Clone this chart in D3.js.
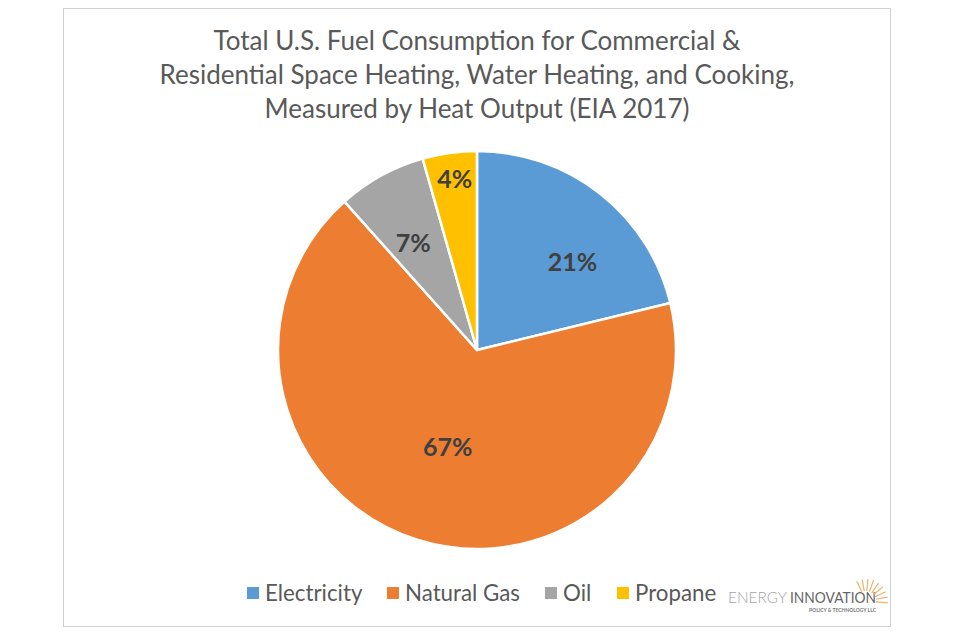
<!DOCTYPE html>
<html>
<head>
<meta charset="utf-8">
<script src="https://cdn.jsdelivr.net/npm/d3@7"></script>
<style>
  html, body { margin: 0; padding: 0; background: #fff; }
  svg { display: block; font-family: Lato, "Open Sans", sans-serif; }
</style>
</head>
<body>
<svg id="chart" width="960" height="633"></svg>
<script>
const fuels = ["Electricity", "Natural Gas", "Oil", "Propane"];
const shares = [21.2, 67.2, 7.2, 4.4];
const fuelColors = ["#5b9bd5", "#ed7d31", "#a5a5a5", "#ffc000"];
const titleLines = [
  "Total U.S. Fuel Consumption for Commercial &",
  "Residential Space Heating, Water Heating, and Cooking,",
  "Measured by Heat Output (EIA 2017)",
];
const legendX = [247, 387, 545, 617];
const raySteps = [-25, -10, 5, 20, 35, 50, 65, 80, 95];

const svg = d3.select("svg#chart");
const textColor = "#595959";

// chart frame
svg.append("rect")
  .attr("x", 63.5).attr("y", 8.5)
  .attr("width", 827).attr("height", 618)
  .attr("fill", "#fff").attr("stroke", "#d0d0d0");

// title
svg.append("g").selectAll("text")
  .data(titleLines)
  .join("text")
  .attr("x", 477)
  .attr("y", (d, i) => 50 + i * 34)
  .attr("text-anchor", "middle")
  .attr("font-size", 26)
  .attr("fill", textColor)
  .text(d => d);

// pie
const radius = 199;
const pie = d3.pie().sort(null).value(d => d.value);
const arc = d3.arc().innerRadius(0).outerRadius(radius);
const pieData = pie(fuels.map((name, i) => ({ name, value: shares[i] })));
const color = d3.scaleOrdinal().domain(fuels).range(fuelColors);

const g = svg.append("g").attr("transform", "translate(477,350)");
g.selectAll("path")
  .data(pieData)
  .join("path")
  .attr("d", arc)
  .attr("fill", d => color(d.data.name))
  .attr("stroke", "#fff")
  .attr("stroke-width", 2.5);

// labels sit off the centroid in the original, so nudge each one
const labelRadius = [122, 119, 124, 169];
const labelNudge = [[20, 8], [6, -17], [-4, 2], [1, -4]];
g.selectAll("text")
  .data(pieData)
  .join("text")
  .attr("transform", (d, i) => {
    const [x, y] = d3.arc().innerRadius(labelRadius[i]).outerRadius(labelRadius[i]).centroid(d);
    return `translate(${x + labelNudge[i][0]},${y + labelNudge[i][1]})`;
  })
  .attr("text-anchor", "middle")
  .attr("dy", "0.36em")
  .attr("font-size", 25)
  .attr("font-weight", 700)
  .attr("fill", "#404040")
  .text(d => `${Math.round(d.data.value)}%`);

// legend
const legend = svg.append("g").selectAll("g")
  .data(fuels)
  .join("g")
  .attr("transform", (d, i) => `translate(${legendX[i]},587)`);
legend.append("rect")
  .attr("width", 12).attr("height", 12)
  .attr("fill", d => color(d));
legend.append("text")
  .attr("x", 18).attr("y", 13.5)
  .attr("font-size", 22.3)
  .attr("fill", textColor)
  .text(d => d);

// logo
const logo = svg.append("g");
logo.append("text")
  .attr("x", 728).attr("y", 603)
  .attr("font-size", 15)
  .attr("fill", "#a3a3a3")
  .attr("font-weight", 300)
  .attr("textLength", 59)
  .attr("lengthAdjust", "spacingAndGlyphs")
  .text("ENERGY");
logo.append("text")
  .attr("x", 790).attr("y", 603)
  .attr("font-size", 15)
  .attr("fill", "#666")
  .attr("textLength", 86)
  .attr("lengthAdjust", "spacingAndGlyphs")
  .text("INNOVATION");
logo.append("text")
  .attr("x", 876).attr("y", 612)
  .attr("text-anchor", "end")
  .attr("font-size", 5)
  .attr("font-weight", 700)
  .attr("fill", "#777")
  .text("POLICY & TECHNOLOGY LLC");
logo.append("g")
  .attr("transform", "translate(866,601)")
  .selectAll("line")
  .data(raySteps)
  .join("line")
  .attr("x1", d => 10 * Math.sin(d * Math.PI / 180))
  .attr("y1", d => -10 * Math.cos(d * Math.PI / 180))
  .attr("x2", d => 22 * Math.sin(d * Math.PI / 180))
  .attr("y2", d => -22 * Math.cos(d * Math.PI / 180))
  .attr("stroke", "#eeb26a")
  .attr("stroke-width", 1.2);
</script>
</body>
</html>
